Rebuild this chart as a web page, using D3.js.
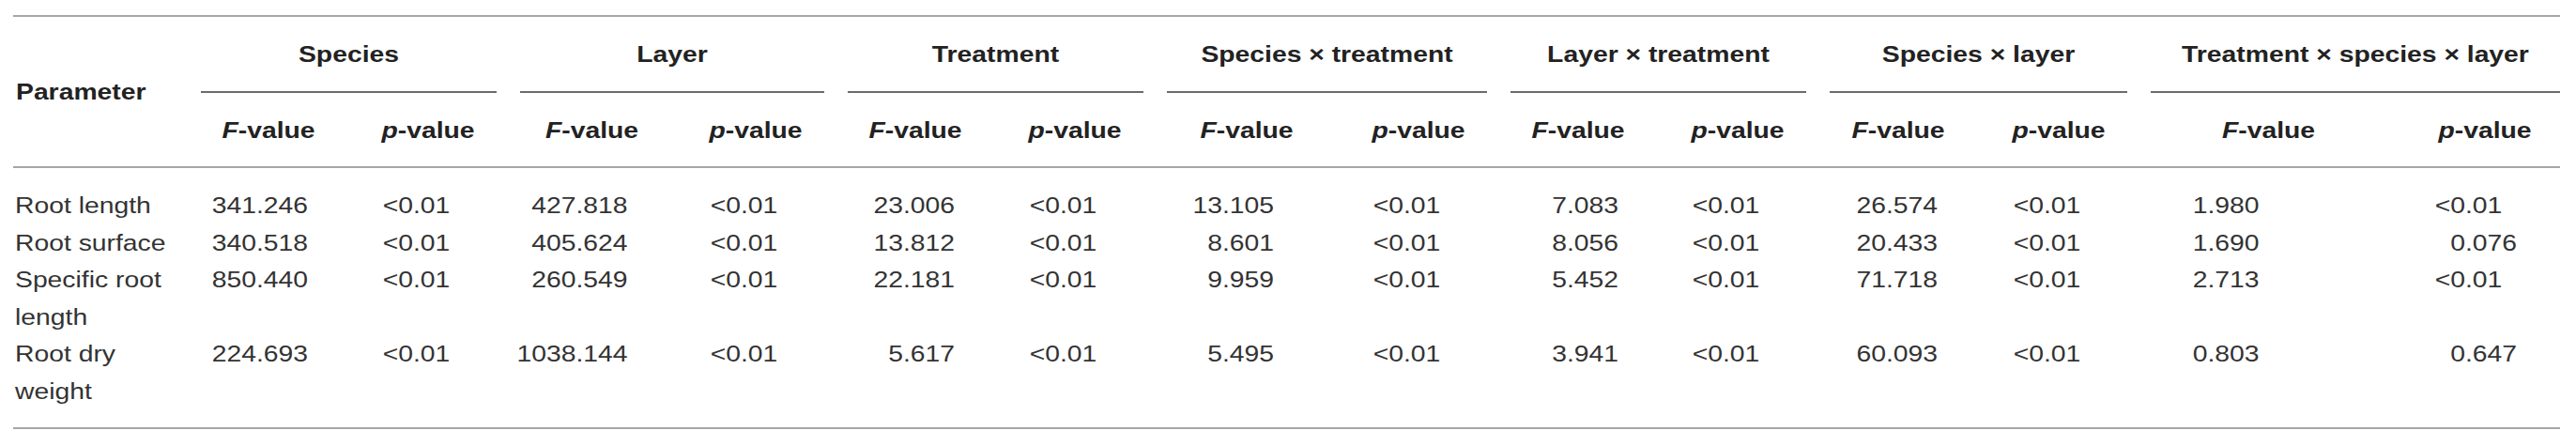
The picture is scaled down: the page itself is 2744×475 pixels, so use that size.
<!DOCTYPE html>
<html lang="en">

<head>
  <meta charset="UTF-8">
  <title>ANOVA table</title>
  <script src="https://d3js.org/d3.v7.min.js"></script>
  <style>
    body { margin: 0; background: #fff; }
    text { font-family: "Liberation Sans", Arial, sans-serif; font-size: 24px; }
  </style>
</head>

<body>
  <script>
    // table content
    const parameters = [["Root length"], ["Root surface"], ["Specific root", "length"], ["Root dry", "weight"]];
    const effects = ["Species", "Layer", "Treatment", "Species × treatment", "Layer × treatment", "Species × layer", "Treatment × species × layer"];
    const subHeads = ["F", "p"];

    const fSpecies = [341.246, 340.518, 850.440, 224.693];
    const fLayer = [427.818, 405.624, 260.549, 1038.144];
    const fTreatment = [23.006, 13.812, 22.181, 5.617];
    const fSpeciesTreatment = [13.105, 8.601, 9.959, 5.495];
    const fLayerTreatment = [7.083, 8.056, 5.452, 3.941];
    const fSpeciesLayer = [26.574, 20.433, 71.718, 60.093];
    const fAll = [1.980, 1.690, 2.713, 0.803];

    const pSpecies = ["<0.01", "<0.01", "<0.01", "<0.01"];
    const pLayer = ["<0.01", "<0.01", "<0.01", "<0.01"];
    const pTreatment = ["<0.01", "<0.01", "<0.01", "<0.01"];
    const pSpeciesTreatment = ["<0.01", "<0.01", "<0.01", "<0.01"];
    const pLayerTreatment = ["<0.01", "<0.01", "<0.01", "<0.01"];
    const pSpeciesLayer = ["<0.01", "<0.01", "<0.01", "<0.01"];
    const pAll = ["<0.01", "0.076", "<0.01", "0.647"];

    const fCols = [fSpecies, fLayer, fTreatment, fSpeciesTreatment, fLayerTreatment, fSpeciesLayer, fAll];
    const pCols = [pSpecies, pLayer, pTreatment, pSpeciesTreatment, pLayerTreatment, pSpeciesLayer, pAll];

    // layout
    const width = 2744;
    const height = 475;
    const tableLeft = 14;
    const padL = 25;
    const sx = 1.18;              // glyphs in the reference are a bit wide
    const paramW = 175;
    const cellW = [[169, 171], [178, 171], [169, 171], [195, 171], [169, 171], [171, 171], [276, 185]];
    const decShift = [[-13, -16], [-17, -16], [-13, -16], [-26, -16], [-12, -16], [-13, -16], [-65, -21]];
    const yTop = 17, yGroupLine = 98, yHeadLine = 178, yBottom = 456;
    const yGroupText = 66, ySubText = 147, yParamText = 106;
    const firstBase = 227, lineH = 39.5;
    const fmt = d3.format(".3f");

    // column lefts from widths
    const colKeys = [];
    const colWidths = [];
    effects.forEach((e, i) => subHeads.forEach((s, j) => { colKeys.push(e + "|" + s); colWidths.push(cellW[i][j]); }));
    const lefts = colWidths.map((w, i) => tableLeft + paramW + d3.sum(colWidths.slice(0, i)));
    const xLeft = d3.scaleOrdinal().domain(colKeys).range(lefts);
    const xWidth = d3.scaleOrdinal().domain(colKeys).range(colWidths);
    const xCenter = k => xLeft(k) + (xWidth(k) + padL) / 2;
    const tableRight = lefts[lefts.length - 1] + colWidths[colWidths.length - 1];

    // rows: line index -> baseline
    const lineStart = parameters.map((p, i) => d3.sum(parameters.slice(0, i), d => d.length));
    const totalLines = d3.sum(parameters, d => d.length);
    const y = d3.scaleLinear().domain([0, totalLines]).range([firstBase, firstBase + totalLines * lineH]);

    let svg = d3.select("body")
      .append("svg")
      .attr("width", width)
      .attr("height", height);

    svg.append("rect").attr("width", width).attr("height", height).attr("fill", "#fff");

    const place = (x, yy) => `translate(${x},${yy}) scale(${sx},1)`;

    // horizontal rules
    [yTop, yHeadLine, yBottom].forEach(yy => {
      svg.append("line")
        .attr("x1", tableLeft).attr("x2", tableRight)
        .attr("y1", yy).attr("y2", yy)
        .attr("stroke", "#a6a6a6")
        .attr("stroke-width", 2);
    });

    // group header + underline
    effects.forEach((e, i) => {
      const kF = e + "|F", kP = e + "|p";
      const x1 = xLeft(kF) + padL;
      const x2 = xLeft(kP) + xWidth(kP);
      svg.append("line")
        .attr("x1", x1).attr("x2", x2)
        .attr("y1", yGroupLine).attr("y2", yGroupLine)
        .attr("stroke", "#3a3a3a")
        .attr("stroke-width", 1.6);
      svg.append("text")
        .attr("transform", place((x1 + x2) / 2, yGroupText))
        .attr("text-anchor", "middle")
        .attr("font-weight", "bold")
        .attr("fill", "#222")
        .text(e);

      subHeads.forEach(s => {
        const t = svg.append("text")
          .attr("transform", place(xCenter(e + "|" + s), ySubText))
          .attr("text-anchor", "middle")
          .attr("font-weight", "bold")
          .attr("fill", "#222");
        t.append("tspan").attr("font-style", "italic").text(s);
        t.append("tspan").text("-value");
      });
    });

    svg.append("text")
      .attr("transform", place(tableLeft + 3, yParamText))
      .attr("font-weight", "bold")
      .attr("fill", "#222")
      .text("Parameter");

    // row labels
    parameters.forEach((lines, r) => {
      lines.forEach((l, j) => {
        svg.append("text")
          .attr("transform", place(tableLeft + 2, y(lineStart[r] + j)))
          .attr("fill", "#333")
          .text(l);
      });
    });

    // decimal aligned values
    const putValue = (str, dx, yy) => {
      const dot = str.indexOf(".");
      const head = str.slice(0, dot), tail = str.slice(dot);
      svg.append("text").attr("transform", place(dx, yy))
        .attr("text-anchor", "end").attr("fill", "#333").text(head);
      svg.append("text").attr("transform", place(dx, yy))
        .attr("text-anchor", "start").attr("fill", "#333").text(tail);
    };

    effects.forEach((e, i) => {
      const dF = xCenter(e + "|F") + decShift[i][0];
      const dP = xCenter(e + "|p") + decShift[i][1];
      fCols[i].forEach((v, r) => putValue(fmt(v), dF, y(lineStart[r])));
      pCols[i].forEach((v, r) => putValue(v, dP, y(lineStart[r])));
    });
  </script>
</body>

</html>
